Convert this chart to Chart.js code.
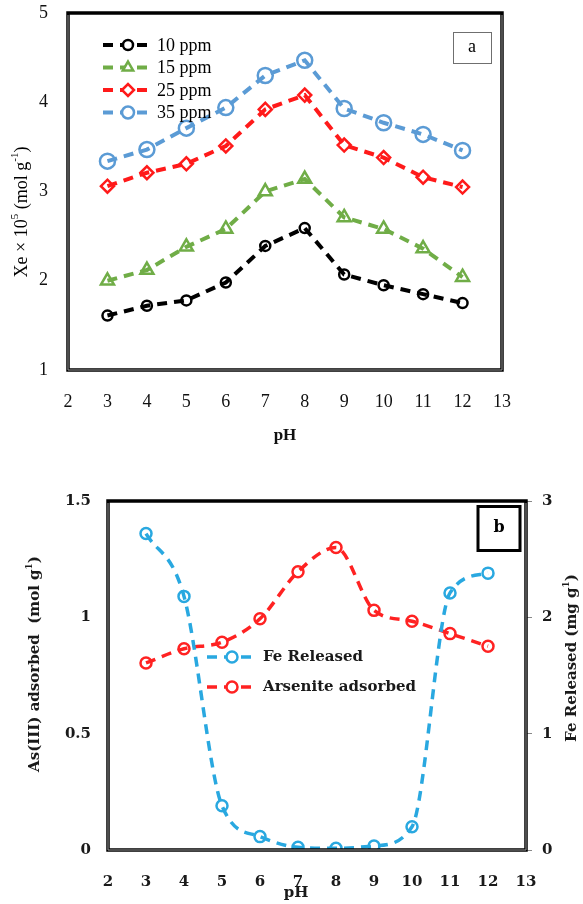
<!DOCTYPE html>
<html><head><meta charset="utf-8">
<script src="https://cdn.jsdelivr.net/npm/chart.js@4.4.0/dist/chart.umd.min.js"></script>
<style>
html,body{margin:0;padding:0;background:#fff;}
#c1{position:absolute;left:0;top:0;}
#c2{position:absolute;left:0;top:450px;}
</style></head><body>
<canvas id="c1" width="583" height="450"></canvas>
<canvas id="c2" width="583" height="454"></canvas>
<script>
// ---------- data (panel a) ----------
const pH = [3,4,5,6,7,8,9,10,11,12];
const ppm10 = [1.61,1.72,1.78,1.98,2.39,2.59,2.07,1.95,1.85,1.75];
const ppm15 = [2.00,2.12,2.38,2.58,3.00,3.14,2.71,2.58,2.36,2.04];
const ppm25 = [3.06,3.21,3.31,3.51,3.92,4.08,3.52,3.38,3.16,3.05];
const ppm35 = [3.34,3.47,3.71,3.94,4.30,4.47,3.93,3.77,3.64,3.46];
const seriesNamesA = ['10 ppm','15 ppm','25 ppm','35 ppm'];
// ---------- data (panel b) ----------
const feReleased = [2.72,2.18,0.38,0.115,0.023,0.014,0.035,0.20,2.21,2.38];
const arseniteAdsorbed = [0.804,0.865,0.893,0.994,1.196,1.30,1.03,0.983,0.93,0.876];
const seriesNamesB = ['Fe Released','Arsenite adsorbed'];

const pts = (ys) => pH.map((x,i)=>({x:x,y:ys[i]}));

function drawMarker(ctx, style, x, y, r, color, bw){
  ctx.save();
  ctx.strokeStyle = color; ctx.lineWidth = bw; ctx.fillStyle = '#fff';
  ctx.setLineDash([]);
  ctx.beginPath();
  if (style === 'circle'){ ctx.arc(x,y,r,0,Math.PI*2); }
  else if (style === 'triangle'){
    let a = 0;
    ctx.moveTo(x+Math.sin(a)*r, y-Math.cos(a)*r);
    a += 2*Math.PI/3; ctx.lineTo(x+Math.sin(a)*r, y-Math.cos(a)*r);
    a += 2*Math.PI/3; ctx.lineTo(x+Math.sin(a)*r, y-Math.cos(a)*r);
    ctx.closePath();
  } else if (style === 'rectRot'){
    ctx.moveTo(x-r,y); ctx.lineTo(x,y-r); ctx.lineTo(x+r,y); ctx.lineTo(x,y+r); ctx.closePath();
  }
  ctx.fill(); ctx.stroke();
  ctx.restore();
}

// parts: [[text, isSup], ...]
function drawRich(ctx, parts, cx, cy, rot, size, family, weight, color){
  ctx.save();
  ctx.translate(cx, cy); ctx.rotate(rot);
  ctx.fillStyle = color; ctx.textBaseline = 'middle'; ctx.textAlign = 'left';
  const f = (s)=> weight+' '+s+'px '+family;
  let w = 0;
  parts.forEach(p=>{ ctx.font = f(p[1]?Math.round(size*0.62):size); w += ctx.measureText(p[0]).width; });
  let x = -w/2;
  parts.forEach(p=>{
    ctx.font = f(p[1]?Math.round(size*0.62):size);
    ctx.fillText(p[0], x, p[1]? -size*0.38 : 0);
    x += ctx.measureText(p[0]).width;
  });
  ctx.restore();
}

function frame(ctx, a){
  ctx.save();
  ctx.setLineDash([]);
  ctx.strokeStyle = '#000'; ctx.lineWidth = 3.5;
  ctx.strokeRect(a.left, a.top, a.right-a.left, a.bottom-a.top);
  ctx.strokeStyle = '#9a9a9a'; ctx.lineWidth = 1;
  ctx.beginPath();
  ctx.moveTo(a.left, a.top+2); ctx.lineTo(a.left, a.bottom); ctx.lineTo(a.right, a.bottom); ctx.lineTo(a.right, a.top+2);
  ctx.stroke();
  ctx.restore();
}

const numFmt = (v) => String(+(+v).toFixed(2));
const fitW = (w) => (s) => { s.width = w; s.paddingTop = 0; s.paddingBottom = 0; };
const fitH = (h) => (s) => { s.height = h; s.paddingLeft = 0; s.paddingRight = 0; };

// ---------- panel a ----------
const serifA = 'Liberation Serif';
const colA = ['#000000','#70ad47','#ff1a1a','#5b9bd5'];
const styA = ['circle','triangle','rectRot','circle'];
const radA = [5,7.5,6.5,7.5];
const valsA = [ppm10, ppm15, ppm25, ppm35];

const decoA = {
  id:'decoA',
  afterDraw(chart){
    const ctx = chart.ctx, a = chart.chartArea;
    frame(ctx, a);
    const rows = [45,67.5,90,112.5];
    valsA.forEach((v,i)=>{
      ctx.save();
      ctx.strokeStyle = colA[i]; ctx.lineWidth = 4; ctx.setLineDash([10,7]);
      ctx.beginPath(); ctx.moveTo(103, rows[i]); ctx.lineTo(153, rows[i]); ctx.stroke();
      ctx.restore();
      drawMarker(ctx, styA[i], 128, rows[i], Math.min(radA[i],6), colA[i], 2.5);
      ctx.save();
      ctx.fillStyle = '#000'; ctx.font = '18px "'+serifA+'"'; ctx.textBaseline='middle';
      ctx.fillText(seriesNamesA[i], 157, rows[i]+1);
      ctx.restore();
    });
    ctx.save();
    ctx.strokeStyle = '#6f6f6f'; ctx.lineWidth = 1;
    ctx.strokeRect(453.5, 32.5, 38, 31);
    ctx.fillStyle = '#000'; ctx.font = '18px "'+serifA+'"'; ctx.textAlign='center'; ctx.textBaseline='middle';
    ctx.fillText('a', 472, 47);
    ctx.restore();
    drawRich(ctx, [['Xe \u00d7 10',false],['5',true],[' (mol g',false],['-1',true],[')',false]], 22, 212, -Math.PI/2, 18, '"'+serifA+'"', 'normal', '#000');
    drawRich(ctx, [['pH',false]], 285, 436, 0, 17, '"'+serifA+'"', 'bold', '#111');
  }
};

new Chart(document.getElementById('c1'), {
  type:'line',
  data:{ datasets: valsA.map((v,i)=>({
    label: seriesNamesA[i], data: pts(v),
    borderColor: colA[i], borderWidth: 4, borderDash:[10,7],
    pointStyle: styA[i], pointRadius: radA[i], pointBorderWidth: 2.5,
    pointBorderColor: colA[i], pointBackgroundColor:'rgba(255,255,255,0)',
    tension: 0, fill:false
  }))},
  options:{
    responsive:false, animation:false, devicePixelRatio:1,
    layout:{padding:{left:0,right:81,top:13,bottom:0}},
    plugins:{legend:{display:false}, tooltip:{enabled:false}},
    scales:{
      x:{type:'linear', min:2, max:13, afterFit:fitH(80),
        ticks:{stepSize:1, padding:13, color:'#111', font:{family:serifA, size:18}, callback:numFmt},
        grid:{display:false}, border:{display:false}},
      y:{min:1, max:5, afterFit:fitW(68),
        ticks:{stepSize:1, padding:12, color:'#111', font:{family:serifA, size:18}, callback:numFmt},
        grid:{display:false}, border:{display:false}}
    }
  },
  plugins:[decoA]
});

// ---------- panel b ----------
const serifB = 'DejaVu Serif';
const feCol = '#29a8e0';
const asCol = '#ff2222';

const decoB = {
  id:'decoB',
  afterDraw(chart){
    const ctx = chart.ctx, a = chart.chartArea;
    frame(ctx, a);
    const rows = [207, 237];
    const cols = [feCol, asCol];
    rows.forEach((y,i)=>{
      ctx.save();
      ctx.strokeStyle = cols[i]; ctx.lineWidth = 3.5; ctx.setLineDash([10,7]);
      ctx.beginPath(); ctx.moveTo(207, y); ctx.lineTo(258, y); ctx.stroke();
      ctx.restore();
      drawMarker(ctx, 'circle', 232, y, 5.5, cols[i], 2.5);
      ctx.save();
      ctx.fillStyle = '#1a1a1a'; ctx.font = 'bold 15px "'+serifB+'"'; ctx.textBaseline='middle';
      ctx.fillText(seriesNamesB[i], 263, y);
      ctx.restore();
    });
    ctx.save();
    ctx.strokeStyle = '#000'; ctx.lineWidth = 3;
    ctx.strokeRect(478, 56.5, 42, 44);
    ctx.fillStyle = '#000'; ctx.font = 'bold 16px "'+serifB+'"'; ctx.textAlign='center'; ctx.textBaseline='middle';
    ctx.fillText('b', 499, 78);
    ctx.restore();
    drawRich(ctx, [['As(III) adsorbed  (mol g',false],['1',true],[')',false]], 35, 214, -Math.PI/2, 15, '"'+serifB+'"', 'bold', '#1a1a1a');
    drawRich(ctx, [['Fe Released (mg g',false],['1',true],[')',false]], 572, 208, -Math.PI/2, 15, '"'+serifB+'"', 'bold', '#1a1a1a');
    drawRich(ctx, [['pH',false]], 296, 443, 0, 15, '"'+serifB+'"', 'bold', '#1a1a1a');
  }
};

const tickFontB = {family:serifB, size:15, weight:'bold'};
new Chart(document.getElementById('c2'), {
  type:'line',
  data:{ datasets:[
    { label: seriesNamesB[0], data: pts(feReleased), yAxisID:'y2',
      borderColor: feCol, borderWidth: 3.5, borderDash:[10,7],
      pointStyle:'circle', pointRadius:5.5, pointBorderWidth:2.5,
      pointBorderColor: feCol, pointBackgroundColor:'rgba(255,255,255,0)',
      cubicInterpolationMode:'monotone', fill:false },
    { label: seriesNamesB[1], data: pts(arseniteAdsorbed), yAxisID:'y',
      borderColor: asCol, borderWidth: 3.5, borderDash:[10,7],
      pointStyle:'circle', pointRadius:5.5, pointBorderWidth:2.5,
      pointBorderColor: asCol, pointBackgroundColor:'rgba(255,255,255,0)',
      cubicInterpolationMode:'monotone', fill:false }
  ]},
  options:{
    responsive:false, animation:false, devicePixelRatio:1,
    layout:{padding:{left:0,right:0,top:51,bottom:0}},
    plugins:{legend:{display:false}, tooltip:{enabled:false}},
    scales:{
      x:{type:'linear', min:2, max:13, afterFit:fitH(54),
        ticks:{stepSize:1, padding:15, color:'#1a1a1a', font:tickFontB, callback:numFmt},
        grid:{display:false}, border:{display:false}},
      y:{position:'left', min:0, max:1.5, afterFit:fitW(108),
        ticks:{stepSize:0.5, padding:9, color:'#1a1a1a', font:tickFontB, callback:numFmt},
        grid:{display:false}, border:{display:false}},
      y2:{position:'right', min:0, max:3, afterFit:fitW(57),
        ticks:{stepSize:1, padding:10, color:'#1a1a1a', font:tickFontB, callback:numFmt},
        grid:{display:true, drawOnChartArea:false, drawTicks:true, tickLength:6, color:'#888', lineWidth:1},
        border:{display:false}}
    }
  },
  plugins:[decoB]
});
</script>
</body></html>
